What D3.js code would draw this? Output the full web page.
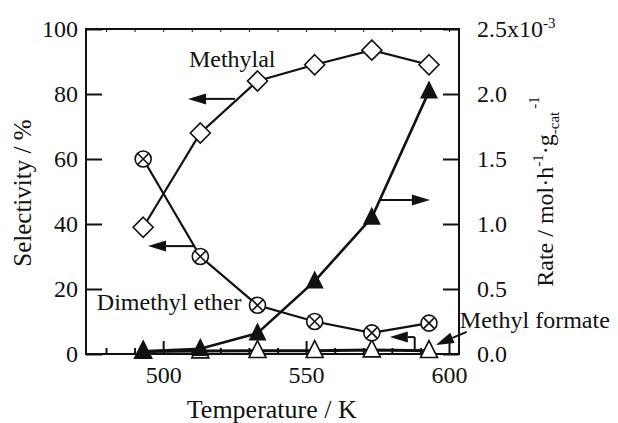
<!DOCTYPE html>
<html>
<head>
<meta charset="utf-8">
<script src="https://cdn.jsdelivr.net/npm/d3@7"></script>
<style>
  body { margin: 0; background: #fff; }
</style>
</head>
<body>
<div id="chart"></div>
<script>
// Data
const temperature = [493, 513, 533, 553, 573, 593]
const methylal = [39, 68, 84, 89, 93.5, 89]
const dimethylEther = [60, 30, 15, 10, 6.5, 9.5]
const methylFormate = [0.8, 0.9, 1.0, 1.0, 1.2, 1.0]
const rate = [0.02, 0.04, 0.16, 0.56, 1.05, 2.02] // x10^-3 mol/h/g-cat

const selTicks = [0, 20, 40, 60, 80, 100]
const rateTicks = [0, 0.5, 1.0, 1.5, 2.0, 2.5]
const tempTicks = [500, 550, 600]
const tempMinor = [480, 490, 510, 520, 530, 540, 560, 570, 580, 590]

const serif = "'Liberation Serif', 'Times New Roman', serif"

// Dimensions
let dimensions = {
  width: 618,
  height: 423,
  margins: { top: 29, right: 159, bottom: 69, left: 86 },
  ctrWidth: 0,
  ctrHeight: 0
}
dimensions.ctrWidth = dimensions.width - dimensions.margins.left - dimensions.margins.right
dimensions.ctrHeight = dimensions.height - dimensions.margins.top - dimensions.margins.bottom

const svg = d3.select('#chart')
  .append("svg")
  .attr("width", dimensions.width)
  .attr("height", dimensions.height)
  .attr("font-family", serif)

const ctr = svg.append("g")
  .attr("transform", `translate(${dimensions.margins.left}, ${dimensions.margins.top})`)

// Scales
const xScale = d3.scaleLinear()
  .domain([473, 603.5])
  .range([0, dimensions.ctrWidth])

const yScale = d3.scaleLinear()
  .domain([0, 100])
  .range([dimensions.ctrHeight, 0])

const rScale = d3.scaleLinear()
  .domain([0, 2.5])
  .range([dimensions.ctrHeight, 0])

// Axes (ticks point inward)
const xAxis = d3.axisBottom(xScale).tickValues(tempTicks).tickSize(-13).tickPadding(12)
const xAxisMinor = d3.axisBottom(xScale).tickValues(tempMinor).tickSize(-6).tickFormat("")
const xAxisTop = d3.axisTop(xScale).tickValues(tempTicks.concat(tempMinor)).tickSize(-3).tickFormat("")
const yAxis = d3.axisLeft(yScale).tickValues(selTicks).tickSize(-16).tickPadding(8)
const rAxis = d3.axisRight(rScale).tickValues(rateTicks).tickSize(-16).tickPadding(18)
  .tickFormat(d => d === 2.5 ? "2.5x10" : d3.format(".1f")(d))

function styleAxis(g) {
  g.attr("font-family", serif).attr("font-size", 24)
  g.select(".domain").remove()
  g.selectAll("line").attr("stroke", "#111").attr("stroke-width", 2)
  g.selectAll("text").attr("fill", "#111")
}

ctr.append("g").attr("transform", `translate(0, ${dimensions.ctrHeight})`).call(xAxis).call(styleAxis)
ctr.append("g").attr("transform", `translate(0, ${dimensions.ctrHeight})`).call(xAxisMinor).call(styleAxis)
ctr.append("g").call(xAxisTop).call(styleAxis).selectAll("line").attr("stroke-width", 1)
ctr.append("g").call(yAxis).call(styleAxis)
const rAxisGroup = ctr.append("g").attr("transform", `translate(${dimensions.ctrWidth}, 0)`).call(rAxis).call(styleAxis)

rAxisGroup.selectAll(".tick text")
  .filter(d => d === 2.5)
  .append("tspan")
  .attr("font-size", 15)
  .attr("dy", -9)
  .text("-3")

// Frame
ctr.append("rect")
  .attr("width", dimensions.ctrWidth)
  .attr("height", dimensions.ctrHeight)
  .attr("fill", "none")
  .attr("stroke", "#111")
  .attr("stroke-width", 2)

// Axis titles
svg.append("text")
  .attr("x", dimensions.margins.left + xScale(538))
  .attr("y", 418)
  .attr("text-anchor", "middle")
  .attr("font-size", 26)
  .text("Temperature / K")

svg.append("text")
  .attr("transform", `translate(31, ${dimensions.margins.top + yScale(49.5)}) rotate(-90)`)
  .attr("text-anchor", "middle")
  .attr("font-size", 25)
  .text("Selectivity / %")

const rateTitle = svg.append("text")
  .attr("transform", `translate(553, ${dimensions.margins.top + rScale(1.25)}) rotate(-90)`)
  .attr("text-anchor", "middle")
  .attr("font-size", 24)
rateTitle.append("tspan").text("Rate / mol·h")
rateTitle.append("tspan").attr("font-size", 15).attr("dy", -10).text("-1")
rateTitle.append("tspan").attr("dy", 10).text("·g")
rateTitle.append("tspan").attr("font-size", 15).attr("dy", 6).text("-cat")
rateTitle.append("tspan").attr("font-size", 15).attr("dy", -20).attr("dx", 3).text("-1")

// Series
const selPoints = (values) => temperature.map((t, i) => [xScale(t), yScale(values[i])])
const ratePoints = temperature.map((t, i) => [xScale(t), rScale(rate[i])])

const line = d3.line()

ctr.append("path").attr("d", line(selPoints(methylFormate)))
  .attr("fill", "none").attr("stroke", "#111").attr("stroke-width", 3)
ctr.append("path").attr("d", line(ratePoints))
  .attr("fill", "none").attr("stroke", "#111").attr("stroke-width", 2.6)
ctr.append("path").attr("d", line(selPoints(methylal)))
  .attr("fill", "none").attr("stroke", "#111").attr("stroke-width", 2.2)
ctr.append("path").attr("d", line(selPoints(dimethylEther)))
  .attr("fill", "none").attr("stroke", "#111").attr("stroke-width", 2.2)

const triangle = (s) => `M0,${-s * 0.6}L${s / 2},${s * 0.4}L${-s / 2},${s * 0.4}Z`

// Methyl formate (open triangles)
ctr.selectAll(".mf")
  .data(selPoints(methylFormate))
  .join("path")
  .attr("transform", d => `translate(${d[0]}, ${d[1]})`)
  .attr("d", triangle(17))
  .attr("fill", "#fff").attr("stroke", "#111").attr("stroke-width", 1.6)

// Rate (filled triangles)
ctr.selectAll(".rate")
  .data(ratePoints)
  .join("path")
  .attr("transform", d => `translate(${d[0]}, ${d[1]})`)
  .attr("d", triangle(18))
  .attr("fill", "#111")

// Methylal (open diamonds)
ctr.selectAll(".methylal")
  .data(selPoints(methylal))
  .join("path")
  .attr("transform", d => `translate(${d[0]}, ${d[1]})`)
  .attr("d", "M0,-10L10,0L0,10L-10,0Z")
  .attr("fill", "#fff").attr("stroke", "#111").attr("stroke-width", 1.6)

// Dimethyl ether (circle with cross)
const dme = ctr.selectAll(".dme")
  .data(selPoints(dimethylEther))
  .join("g")
  .attr("transform", d => `translate(${d[0]}, ${d[1]})`)
dme.append("circle").attr("r", 8).attr("fill", "#fff").attr("stroke", "#111").attr("stroke-width", 1.6)
dme.append("path").attr("d", "M-5.5,-5.5L5.5,5.5M-5.5,5.5L5.5,-5.5").attr("stroke", "#111").attr("stroke-width", 1.6)

// Annotations (in data units)
const labels = [
  { text: "Methylal", t: 509, v: 88.3 },
  { text: "Dimethyl ether", t: 476.8, v: 13.5 },
  { text: "Methyl formate", t: 603.8, v: 8 }
]
ctr.selectAll(".label")
  .data(labels)
  .join("text")
  .attr("x", d => xScale(d.t))
  .attr("y", d => yScale(d.v))
  .attr("font-size", 24)
  .text(d => d.text)

function arrow(x1, y1, x2, y2) {
  const angle = Math.atan2(y2 - y1, x2 - x1)
  const len = 18, half = 5.5
  const bx = x2 - len * Math.cos(angle), by = y2 - len * Math.sin(angle)
  ctr.append("line")
    .attr("x1", x1).attr("y1", y1).attr("x2", bx).attr("y2", by)
    .attr("stroke", "#111").attr("stroke-width", 2)
  ctr.append("path")
    .attr("d", `M${x2},${y2}L${bx - half * Math.sin(angle)},${by + half * Math.cos(angle)}L${bx + half * Math.sin(angle)},${by - half * Math.cos(angle)}Z`)
    .attr("fill", "#111")
}

arrow(xScale(525.1), yScale(78.5), xScale(508.7), yScale(78.5))
arrow(xScale(511.1), yScale(33.2), xScale(494.7), yScale(33.2))
arrow(xScale(575.8), rScale(1.185), xScale(593.3), rScale(1.185))
arrow(xScale(606.2), yScale(6.8), xScale(595.4), yScale(2.8))

// L-shaped arrow for methyl formate (left axis)
ctr.append("line")
  .attr("x1", xScale(588)).attr("y1", yScale(1.2))
  .attr("x2", xScale(588)).attr("y2", yScale(5.2))
  .attr("stroke", "#111").attr("stroke-width", 2)
arrow(xScale(588), yScale(5.2), xScale(579.3), yScale(5.2))

svg.selectAll("text").style("font-family", serif).attr("fill", "#111")
</script>
</body>
</html>
